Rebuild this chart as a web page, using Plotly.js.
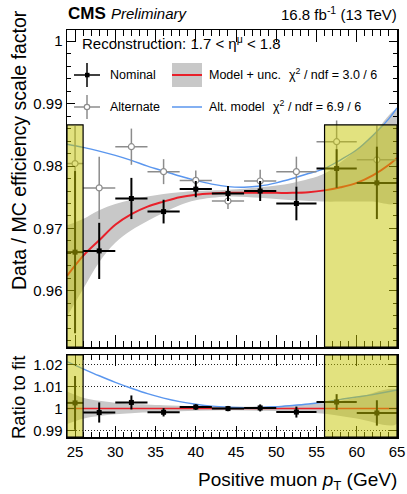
<!DOCTYPE html>
<html>
<head>
<meta charset="utf-8">
<script src="https://cdn.plot.ly/plotly-3.0.1.min.js"></script>
<style>html,body{margin:0;padding:0;background:#fff;}#chart{width:407px;height:494px;}</style>
</head>
<body>
<div id="chart"></div>
<script>
// ---------------- data ----------------
const binLow    = [24, 26, 30, 34, 38, 42, 46, 50, 55, 60];
const binHigh   = [26, 30, 34, 38, 42, 46, 50, 55, 60, 65];
const binCenter = [25, 28, 32, 36, 40, 44, 48, 52.5, 57.5, 62.5];

const nominalSF  = [0.9662, 0.9664, 0.9748, 0.9727, 0.9763, 0.9756, 0.9760, 0.9740, 0.9796, 0.9773];
const nominalErr = [0.0130, 0.0045, 0.0033, 0.0019, 0.0013, 0.0012, 0.0016, 0.0027, 0.0031, 0.0058];

const alternateSF  = [0.9804, 0.9765, 0.9831, 0.9791, 0.9777, 0.9744, 0.9776, 0.9791, 0.9839, 0.9810];
const alternateErr = [0.0060, 0.0050, 0.0029, 0.0020, 0.0016, 0.0013, 0.0018, 0.0024, 0.0034, 0.0055];

const modelX = [24, 26, 28, 30, 32, 34, 36, 38, 40, 42, 44, 46, 48, 50, 52, 54, 56, 58, 60, 62, 64, 65];
const modelY = [0.9624, 0.9656, 0.9681, 0.9706, 0.9723, 0.9735, 0.9743, 0.9750, 0.9754, 0.9756, 0.9757, 0.9757,
                0.9757, 0.9757, 0.9757, 0.9758, 0.9761, 0.9766, 0.9773, 0.9785, 0.9802, 0.9813];

const bandX    = [24, 26, 28, 30, 32, 34, 36, 38, 40, 44, 48, 52, 56, 58, 60, 62, 65];
const bandUp   = [0.9705, 0.9715, 0.9729, 0.9739, 0.9746, 0.9751, 0.9755, 0.9758, 0.9760, 0.9762, 0.9766, 0.9773,
                  0.9788, 0.9806, 0.9826, 0.9850, 0.9890];
const bandDown = [0.9559, 0.9603, 0.9646, 0.9677, 0.9697, 0.9712, 0.9725, 0.9737, 0.9745, 0.9751, 0.9749, 0.9745,
                  0.9743, 0.9743, 0.9743, 0.9743, 0.9742];

const altModelX = [24, 26, 28, 30, 32, 34, 36, 38, 40, 42, 44, 46, 48, 50, 52, 54, 56, 58, 60, 62, 64, 65];
const altModelY = [0.9835, 0.9830, 0.9824, 0.9817, 0.9809, 0.9800, 0.9792, 0.9784, 0.9777, 0.9771, 0.9767, 0.9766,
                   0.9768, 0.9773, 0.9780, 0.9788, 0.9796, 0.9810, 0.9826, 0.9849, 0.9876, 0.9893];

const ratioNominal = [1.0026, 0.9982, 1.0028, 0.9983, 1.0007, 1.0000, 1.0003, 0.9984, 1.0030, 0.9980];
const ratioErr     = [0.0123, 0.0046, 0.0032, 0.0019, 0.0013, 0.0012, 0.0016, 0.0025, 0.0036, 0.0058];

const ratioModelX = [24, 65];
const ratioModelY = [1, 1];

const ratioAltX = [24, 26, 28, 30, 32, 34, 36, 38, 40, 42, 44, 46, 48, 50, 52, 54, 56, 58, 60, 62, 65];
const ratioAltY = [1.0215, 1.0182, 1.0150, 1.0120, 1.0093, 1.0068, 1.0048, 1.0032, 1.0020, 1.0011, 1.0006, 1.0004,
                   1.0005, 1.0008, 1.0014, 1.0021, 1.0030, 1.0042, 1.0053, 1.0064, 1.0085];

const ratioBandX    = [24, 26, 28, 30, 32, 36, 40, 44, 48, 52, 56, 60, 65];
const ratioBandUp   = [1.0078, 1.0050, 1.0036, 1.0027, 1.0022, 1.0015, 1.0010, 1.0008, 1.0010, 1.0015, 1.0025, 1.0050, 1.0084];
const ratioBandDown = [0.9930, 0.9954, 0.9966, 0.9974, 0.9979, 0.9985, 0.9990, 0.9992, 0.9990, 0.9986, 0.9976, 0.9955, 0.9931];

const excludedRanges = [[24, 26], [56, 65]];
const excludedTop = 0.9866;

const legendNames = ['Nominal', 'Alternate', 'Model + unc.', 'Alt. model'];
const chi2 = ['3.0', '6.9'];
const ndf = ['6', '6'];

// ---------------- style / layout ----------------
const FONT = 'Liberation Sans, Arial, Helvetica, sans-serif';
const W = 407, H = 494;
const M = {l: 67, r: 10, t: 30, b: 57};
const PW = W - M.l - M.r, PH = H - M.t - M.b;
const px = v => (v - M.l) / PW;          // pixel -> paper x
const py = v => (H - M.b - v) / PH;      // pixel -> paper y

const RED = '#e8202a', BLUE = '#5a96ee', BAND = '#c8c8c8', ALTGRAY = '#8c8c8c';
const YELLOW = 'rgba(198,198,0,0.5)';

const xMainRange = [24, 65];
const yMainRange = [0.951, 1.0018];
const yRatioRange = [0.987, 1.0245];

const exMinus = binCenter.map((c, i) => c - binLow[i]);
const exPlus  = binCenter.map((c, i) => binHigh[i] - c);

const polyX = (xs) => xs.concat(xs.slice().reverse());
const polyY = (up, down) => up.concat(down.slice().reverse());

const traces = [
  // main panel
  {x: polyX(bandX), y: polyY(bandUp, bandDown), xaxis: 'x', yaxis: 'y', mode: 'lines', fill: 'toself',
   fillcolor: BAND, line: {width: 0, shape: 'spline'}, hoverinfo: 'skip', showlegend: false},
  {x: modelX, y: modelY, xaxis: 'x', yaxis: 'y', mode: 'lines', line: {color: RED, width: 2, shape: 'spline'}, showlegend: false},
  {x: altModelX, y: altModelY, xaxis: 'x', yaxis: 'y', mode: 'lines', line: {color: BLUE, width: 1.4, shape: 'spline'}, showlegend: false},
  {x: binCenter, y: alternateSF, xaxis: 'x', yaxis: 'y', mode: 'markers',
   marker: {symbol: 'circle', size: 6, color: 'white', line: {color: ALTGRAY, width: 1.2}},
   error_y: {type: 'data', array: alternateErr, color: ALTGRAY, thickness: 1.5, width: 0},
   error_x: {type: 'data', symmetric: false, array: exPlus, arrayminus: exMinus, color: ALTGRAY, thickness: 1.5, width: 0},
   showlegend: false},
  {x: binCenter, y: nominalSF, xaxis: 'x', yaxis: 'y', mode: 'markers',
   marker: {symbol: 'square', size: 5, color: 'black'},
   error_y: {type: 'data', array: nominalErr, color: 'black', thickness: 2, width: 0},
   error_x: {type: 'data', symmetric: false, array: exPlus, arrayminus: exMinus, color: 'black', thickness: 2, width: 0},
   showlegend: false},
  // ratio panel
  {x: polyX(ratioBandX), y: polyY(ratioBandUp, ratioBandDown), xaxis: 'x2', yaxis: 'y2', mode: 'lines', fill: 'toself',
   fillcolor: BAND, line: {width: 0, shape: 'spline'}, hoverinfo: 'skip', showlegend: false},
  {x: ratioModelX, y: ratioModelY, xaxis: 'x2', yaxis: 'y2', mode: 'lines', line: {color: RED, width: 1.5}, showlegend: false},
  {x: ratioAltX, y: ratioAltY, xaxis: 'x2', yaxis: 'y2', mode: 'lines', line: {color: BLUE, width: 1.4, shape: 'spline'}, showlegend: false},
  {x: binCenter, y: ratioNominal, xaxis: 'x2', yaxis: 'y2', mode: 'markers',
   marker: {symbol: 'square', size: 5, color: 'black'},
   error_y: {type: 'data', array: ratioErr, color: 'black', thickness: 2, width: 0},
   error_x: {type: 'data', symmetric: false, array: exPlus, arrayminus: exMinus, color: 'black', thickness: 2, width: 0},
   showlegend: false}
];

const shapes = [];
excludedRanges.forEach(r => {
  shapes.push({type: 'rect', layer: 'above', xref: 'x', yref: 'y', x0: r[0], x1: r[1], y0: yMainRange[0], y1: excludedTop,
               fillcolor: YELLOW, line: {color: 'black', width: 1.2}});
  shapes.push({type: 'rect', layer: 'above', xref: 'x2', yref: 'y2 domain', x0: r[0], x1: r[1], y0: 0, y1: 1,
               fillcolor: YELLOW, line: {color: 'black', width: 1.2}});
});
// legend symbols (paper coordinates)
const L = (x0, y0, x1, y1, color, width) => ({type: 'line', xref: 'paper', yref: 'paper',
  x0: px(x0), y0: py(y0), x1: px(x1), y1: py(y1), line: {color: color, width: width}});
shapes.push(L(74, 75, 100, 75, 'black', 1.5));
shapes.push(L(87, 63, 87, 87, 'black', 1.5));
shapes.push({type: 'rect', xref: 'paper', yref: 'paper', x0: px(85), x1: px(89.5), y0: py(77.3), y1: py(72.8),
             fillcolor: 'black', line: {width: 0}});
shapes.push(L(74, 107, 100, 107, ALTGRAY, 1.5));
shapes.push(L(87, 95, 87, 119, ALTGRAY, 1.5));
shapes.push({type: 'circle', xref: 'paper', yref: 'paper', x0: px(84.3), x1: px(89.7), y0: py(109.7), y1: py(104.3),
             fillcolor: 'white', line: {color: ALTGRAY, width: 1.2}});
shapes.push({type: 'rect', xref: 'paper', yref: 'paper', x0: px(172), x1: px(202), y0: py(87), y1: py(63),
             fillcolor: BAND, line: {width: 0}});
shapes.push(L(172, 75, 202, 75, RED, 2));
shapes.push(L(172, 107, 202, 107, BLUE, 1.5));

const A = (text, x, y, size, xanchor, extra) => Object.assign({text: text, xref: 'paper', yref: 'paper',
  x: px(x), y: py(y), xanchor: xanchor, yanchor: 'middle', showarrow: false,
  font: {family: FONT, size: size, color: 'black'}}, extra || {});

const annotations = [
  A('<b>CMS</b>', 66, 13, 17, 'left'),
  A('<i>Preliminary</i>', 109, 13.5, 15, 'left'),
  A('16.8 fb<sup>-1</sup> (13 TeV)', 399, 13, 15, 'right'),
  A('Reconstruction: 1.7 < η<sup>μ</sup> < 1.8', 80, 43, 15, 'left'),
  A(legendNames[0], 108, 75, 12.5, 'left'),
  A(legendNames[1], 108, 107, 12.5, 'left'),
  A(legendNames[2], 207, 75, 12.5, 'left'),
  A(legendNames[3], 207, 107, 12.5, 'left'),
  A('χ<sup>2</sup> / ndf = ' + chi2[0] + ' / ' + ndf[0], 287, 74, 12.5, 'left'),
  A('χ<sup>2</sup> / ndf = ' + chi2[1] + ' / ' + ndf[1], 271, 106, 12.5, 'left'),
  A('Data / MC efficiency scale factor', 19, 150, 19.5, 'center', {textangle: -90}),
  A('Ratio to fit', 18, 397, 18.5, 'center', {textangle: -90}),
  A('Positive muon <i>p</i><sub>T</sub> (GeV)', 399, 481, 19, 'right')
];

const ratioDomainTop = (H - M.b - 355) / PH;
const mainDomainBottom = (H - M.b - 347) / PH;

const axisCommon = {showline: true, linecolor: 'black', linewidth: 1.5, mirror: 'allticks', ticks: 'inside',
  tickcolor: 'black', tickwidth: 1, zeroline: false, showgrid: false,
  tickfont: {family: FONT, size: 15, color: 'black'}};

const layout = {
  width: W, height: H, margin: M,
  paper_bgcolor: 'white', plot_bgcolor: 'white',
  font: {family: FONT, size: 15, color: 'black'},
  showlegend: false,
  xaxis: Object.assign({}, axisCommon, {domain: [0, 1], anchor: 'y', range: xMainRange, tick0: 0, dtick: 5,
    ticklen: 12, showticklabels: false,
    minor: {ticks: 'inside', dtick: 1, ticklen: 6, tickcolor: 'black', tickwidth: 1}}),
  yaxis: Object.assign({}, axisCommon, {domain: [mainDomainBottom, 1], anchor: 'x', range: yMainRange,
    tick0: 0, dtick: 0.01, ticklen: 8,
    minor: {ticks: 'inside', dtick: 0.002, ticklen: 4, tickcolor: 'black', tickwidth: 1}}),
  xaxis2: Object.assign({}, axisCommon, {domain: [0, 1], anchor: 'y2', range: xMainRange, tick0: 0, dtick: 5,
    ticklen: 11,
    minor: {ticks: 'inside', dtick: 1, ticklen: 5, tickcolor: 'black', tickwidth: 1}}),
  yaxis2: Object.assign({}, axisCommon, {domain: [0, ratioDomainTop], anchor: 'x2', range: yRatioRange,
    tick0: 0, dtick: 0.01, ticklen: 8, showgrid: true, gridcolor: '#222', gridwidth: 1, griddash: '1px,2px'}),
  shapes: shapes,
  annotations: annotations
};

Plotly.newPlot('chart', traces, layout, {staticPlot: true, displayModeBar: false});
</script>
</body>
</html>
